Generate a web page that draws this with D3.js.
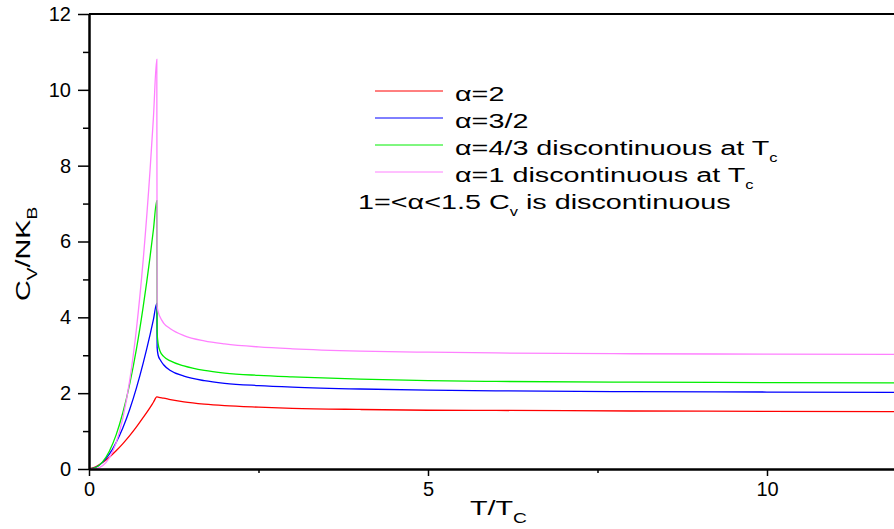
<!DOCTYPE html>
<html>
<head>
<meta charset="utf-8">
<script src="https://cdn.jsdelivr.net/npm/d3@7"></script>
<style>
  body { margin: 0; background: #fff; }
  svg { font-family: "Liberation Sans", Arial, sans-serif; }
  .axis path, .axis line { stroke: #000; }
  .axis text { font-size: 20px; fill: #000; }
</style>
</head>
<body>
<svg id="chart"></svg>
<script>
// T/Tc sample points shared by all curves
const tValues = [0, 0.1, 0.2, 0.3, 0.4, 0.5, 0.6, 0.7, 0.8, 0.9, 0.95, 1.0, 1.005, 1.02, 1.05, 1.1, 1.2, 1.4, 1.7, 2, 2.5, 3, 4, 5, 6, 8, 10, 12];

// Cv/NkB
const alpha2 = [0, 0.06, 0.17, 0.31, 0.48, 0.67, 0.88, 1.11, 1.36, 1.62, 1.76, 1.90, 1.90, 1.895, 1.885, 1.87, 1.83, 1.77, 1.71, 1.67, 1.63, 1.60, 1.57, 1.55, 1.545, 1.53, 1.52, 1.51];
const alpha32 = [0, 0.044, 0.175, 0.39, 0.70, 1.09, 1.57, 2.14, 2.80, 3.54, 3.94, 4.37, 3.2, 3.0, 2.88, 2.75, 2.6, 2.45, 2.33, 2.26, 2.2, 2.16, 2.11, 2.08, 2.06, 2.04, 2.03, 2.02];
const alpha43 = [0, 0.04, 0.19, 0.47, 0.90, 1.49, 2.24, 3.17, 4.29, 5.59, 6.31, 7.08, 3.6, 3.3, 3.1, 2.97, 2.85, 2.72, 2.6, 2.53, 2.47, 2.43, 2.37, 2.33, 2.31, 2.29, 2.28, 2.27];
const alpha1 = [0, 0.011, 0.086, 0.29, 0.69, 1.35, 2.33, 3.70, 5.53, 7.87, 9.26, 10.8, 4.3, 4.15, 4.0, 3.85, 3.7, 3.52, 3.38, 3.3, 3.22, 3.17, 3.11, 3.08, 3.06, 3.04, 3.03, 3.02];

const seriesNames = ["α=2", "α=3/2", "α=4/3 discontinuous at T", "α=1 discontinuous at T"];
const seriesSubs = ["", "", "c", "c"];
const seriesColors = ["#ff0000", "#0000ff", "#00ee00", "#ff80ff"];
const seriesValues = [alpha2, alpha32, alpha43, alpha1];

const xMajor = [0, 5, 10];
const xMinor = [2.5, 7.5];
const yMajor = [0, 2, 4, 6, 8, 10, 12];
const yMinor = [1, 3, 5, 7, 9, 11];

const width = 894, height = 529;
const margin = {top: 14, left: 89, bottom: 60};
const stretch = 1.37; // the original text is drawn wide

const svg = d3.select('#chart')
  .attr('width', width)
  .attr('height', height);

const x = d3.scaleLinear().domain([0, 12]).range([margin.left, margin.left + 12 * 67.8]);
const y = d3.scaleLinear().domain([0, 12]).range([height - margin.bottom, margin.top]);

// curves
const line = d3.line()
  .x((d, i) => x(tValues[i]))
  .y(d => y(d))
  .curve(d3.curveMonotoneX);

svg.append('g')
  .selectAll('path')
  .data(seriesValues)
  .join('path')
    .attr('fill', 'none')
    .attr('stroke', (d, i) => seriesColors[i])
    .attr('stroke-width', 1.3)
    .attr('d', line);

// top frame
svg.append('line')
  .attr('x1', margin.left).attr('x2', width)
  .attr('y1', y(12)).attr('y2', y(12))
  .attr('stroke', '#000').attr('stroke-width', 2);

// x axis
const xAxisG = svg.append('g')
  .attr('class', 'axis')
  .attr('transform', `translate(0,${y(0)})`)
  .call(d3.axisBottom(x).tickValues(xMajor).tickSize(7).tickPadding(6).tickSizeOuter(0));
xAxisG.select('.domain').attr('stroke-width', 2.5);
xAxisG.selectAll('line').attr('stroke-width', 1.5);

svg.append('g')
  .attr('class', 'axis')
  .attr('transform', `translate(0,${y(0)})`)
  .call(d3.axisBottom(x).tickValues(xMinor).tickSize(4).tickFormat('').tickSizeOuter(0))
  .call(g => g.select('.domain').remove())
  .selectAll('line').attr('stroke-width', 1.5);

// y axis
const yAxisG = svg.append('g')
  .attr('class', 'axis')
  .attr('transform', `translate(${x(0)},0)`)
  .call(d3.axisLeft(y).tickValues(yMajor).tickSize(11).tickPadding(7).tickSizeOuter(0));
yAxisG.select('.domain').attr('stroke-width', 2.5);
yAxisG.selectAll('line').attr('stroke-width', 1.5);

svg.append('g')
  .attr('class', 'axis')
  .attr('transform', `translate(${x(0)},0)`)
  .call(d3.axisLeft(y).tickValues(yMinor).tickSize(6).tickFormat('').tickSizeOuter(0))
  .call(g => g.select('.domain').remove())
  .selectAll('line').attr('stroke-width', 1.5);

// axis titles
const xt = svg.append('text')
  .attr('transform', `translate(470,515) scale(${stretch},1)`)
  .style('font-size', '21px');
xt.append('tspan').text('T/T');
xt.append('tspan').attr('dy', 8).style('font-size', '14px').text('C');

const yt = svg.append('text')
  .attr('transform', `translate(30,301) rotate(-90) scale(${stretch},1)`)
  .style('font-size', '21px');
yt.append('tspan').text('C');
yt.append('tspan').attr('dy', 7).style('font-size', '14px').text('V');
yt.append('tspan').attr('dy', -7).text('/NK');
yt.append('tspan').attr('dy', 7).style('font-size', '14px').text('B');

// legend
const legend = svg.append('g');
const rowY = d3.scaleLinear().domain([0, 4]).range([91, 199]);

seriesNames.forEach((name, i) => {
  legend.append('line')
    .attr('x1', 375).attr('x2', 443)
    .attr('y1', rowY(i)).attr('y2', rowY(i))
    .attr('stroke', seriesColors[i]).attr('stroke-width', 1);
  const t = legend.append('text')
    .attr('transform', `translate(455,${rowY(i) + 10}) scale(${stretch},1)`)
    .style('font-size', '21px');
  t.append('tspan').text(name);
  if (seriesSubs[i]) {
    t.append('tspan').attr('dy', 7).style('font-size', '12px').text(seriesSubs[i]);
  }
});

const note = legend.append('text')
  .attr('transform', `translate(358,${rowY(4) + 10}) scale(${stretch},1)`)
  .style('font-size', '21px');
note.append('tspan').text('1=<α<1.5 C');
note.append('tspan').attr('dy', 7).style('font-size', '12px').text('v');
note.append('tspan').attr('dy', -7).text(' is discontinuous');
</script>
</body>
</html>
